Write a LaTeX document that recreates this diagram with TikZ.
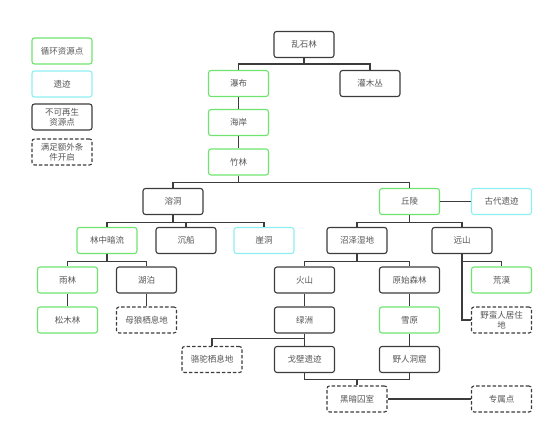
\documentclass[tikz,border=0pt]{standalone}
\usepackage{fontspec}
\usepackage{xcolor}
\usepackage{tikz}
\newfontfamily\cjk{Noto Sans CJK SC}
\definecolor{boxgreen}{HTML}{6EE36E}
\definecolor{boxcyan}{HTML}{8EEFF0}
\definecolor{boxdark}{HTML}{3C3C3C}
\definecolor{txtgray}{HTML}{555555}
\tikzset{
  spot/.style={draw=boxdark, line width=1.1pt, rounded corners=2.5pt, minimum width=60pt, minimum height=26pt,
    inner sep=1pt, align=center, text width=56pt, font=\cjk\fontsize{8.5}{10}\selectfont, text=txtgray},
  renew/.style={spot, draw=boxgreen},
  relic/.style={spot, draw=boxcyan},
  extra/.style={spot, dashed, dash pattern=on 3.5pt off 2pt},
  link/.style={draw=boxdark, line width=1.1pt},
}
\begin{document}
\begin{tikzpicture}[x=1pt, y=-1pt]
\useasboundingbox (0,0) rectangle (553,433);
% legend
\node[renew] (lg1) at (62,51) {循环资源点};
\node[relic] (lg2) at (62,84) {遗迹};
\node[spot] (lg3) at (62,117) {不可再生\\资源点};
\node[extra] (lg4) at (62,152) {满足额外条\\件开启};
% map
\node[spot] (lsl) at (304,44.5) {乱石林};
\node[renew] (pb) at (238.5,83.5) {瀑布};
\node[spot] (gmc) at (370,83.5) {灌木丛};
\node[renew] (ha) at (238.5,122.5) {海岸};
\node[renew] (zl) at (238.5,162) {竹林};
\node[spot] (rd) at (173,201.5) {溶洞};
\node[renew] (ql) at (409.5,201.5) {丘陵};
\node[relic] (gdyj) at (501.5,201.5) {古代遗迹};
\node[renew] (lzal) at (107,240.5) {林中暗流};
\node[spot] (cc) at (186,240.5) {沉船};
\node[relic] (yd) at (264,240.5) {崖洞};
\node[spot] (zzsd) at (357,240.5) {沼泽湿地};
\node[spot] (ys) at (462,240.5) {远山};
\node[renew] (yl) at (67.5,280) {雨林};
\node[spot] (hp) at (146.5,280) {湖泊};
\node[spot] (hs) at (304.5,280) {火山};
\node[spot] (ysls) at (409.5,280) {原始森林};
\node[renew] (hm) at (501.5,280) {荒漠};
\node[renew] (sml) at (67.5,320) {松木林};
\node[extra] (mlqx) at (146.5,320) {母狼栖息地};
\node[spot] (lz) at (304.5,320) {绿洲};
\node[renew] (xy) at (409.5,320) {雪原};
\node[extra] (ymr) at (501.5,320) {野蛮人居住\\地};
\node[extra] (ltqx) at (212,359.5) {骆驼栖息地};
\node[spot] (gbyj) at (304.5,359.5) {戈壁遗迹};
\node[spot] (yrdk) at (409.5,359.5) {野人洞窟};
\node[extra] (hasc) at (357,399) {黑暗囚室};
\node[extra] (zsd) at (501.5,399) {专属点};
% connectors
\draw[link] (lsl.south) -- ++(0,6) -| (pb.north);
\draw[link] (lsl.south) -- ++(0,6) -| (gmc.north);
\draw[link] (pb) -- (ha);
\draw[link] (ha) -- (zl);
\draw[link] (zl.south) -- ++(0,7) -| (rd.north);
\draw[link] (zl.south) -- ++(0,7) -| (ql.north);
\draw[link] (ql) -- (gdyj);
\draw[link] (rd.south) -- ++(0,7) -| (lzal.north);
\draw[link] (rd.south) -- ++(0,7) -| (cc.north);
\draw[link] (rd.south) -- ++(0,7) -| (yd.north);
\draw[link] (ql.south) -- ++(0,7) -| (zzsd.north);
\draw[link] (ql.south) -- ++(0,7) -| (ys.north);
\draw[link] (lzal.south) -- ++(0,7) -| (yl.north);
\draw[link] (lzal.south) -- ++(0,7) -| (hp.north);
\draw[link] (zzsd.south) -- ++(0,7) -| (hs.north);
\draw[link] (zzsd.south) -- ++(0,7) -| (ysls.north);
\draw[link] (ys.south) -- ++(0,7) -| (hm.north);
\draw[link] (ys.south) |- (ymr.west);
\draw[link] (yl) -- (sml);
\draw[link] (hp) -- (mlqx);
\draw[link] (hs) -- (lz);
\draw[link] (ysls) -- (xy);
\draw[link] (lz) -- (gbyj);
\draw[link] (xy) -- (yrdk);
\draw[link] (lz.south) -- ++(0,5) -| (ltqx.north);
\draw[link] (gbyj.south) -- ++(0,6.5) -| (hasc.north);
\draw[link] (yrdk.south) -- ++(0,6.5) -| (hasc.north);
\draw[link] (hasc) -- (zsd);
\end{tikzpicture}
\end{document}
